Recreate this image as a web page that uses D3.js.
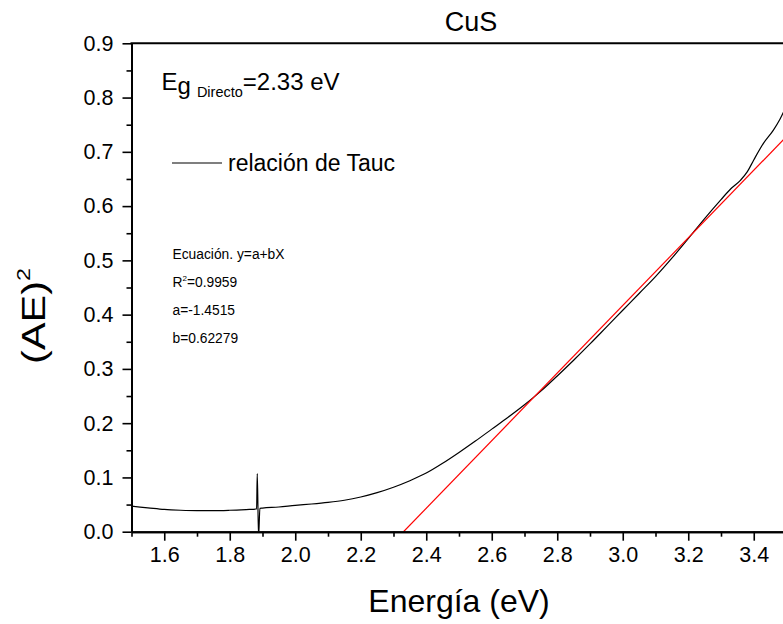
<!DOCTYPE html>
<html><head><meta charset="utf-8">
<script src="https://cdn.jsdelivr.net/npm/d3@7"></script>
<style>body{margin:0;background:#fff;} text{font-family:"Liberation Sans",Arial,sans-serif;}</style>
</head><body>
<svg id="c" width="783" height="624"></svg>
<script>
// Data
const energy = [1.50,1.55,1.60,1.65,1.70,1.75,1.80,1.85,1.882,1.884,1.888,1.892,1.90,1.95,2.00,2.05,2.10,2.15,2.20,2.25,2.30,2.35,2.40,2.45,2.50,2.55,2.60,2.65,2.70,2.75,2.80,2.85,2.90,2.95,3.00,3.05,3.10,3.15,3.20,3.25,3.30,3.33,3.36,3.38,3.40,3.43,3.46,3.48,3.50];
const tauc   = [0.047,0.044,0.041,0.0395,0.0388,0.0388,0.0395,0.0408,0.0418,0.107,-0.01,0.043,0.0435,0.0455,0.0485,0.051,0.054,0.058,0.064,0.072,0.082,0.094,0.108,0.126,0.146,0.167,0.189,0.211,0.234,0.259,0.287,0.316,0.346,0.377,0.408,0.439,0.470,0.504,0.540,0.577,0.612,0.632,0.648,0.663,0.685,0.716,0.740,0.760,0.785];
const fitA = -1.4515, fitB = 0.62279;
const fitX = [2.3306, 3.5];
const xTicks = [1.6,1.8,2.0,2.2,2.4,2.6,2.8,3.0,3.2,3.4];
const yTicks = [0.0,0.1,0.2,0.3,0.4,0.5,0.6,0.7,0.8,0.9];
const xMinor = [1.5,1.7,1.9,2.1,2.3,2.5,2.7,2.9,3.1,3.3,3.5];
const yMinor = [0.05,0.15,0.25,0.35,0.45,0.55,0.65,0.75,0.85];
const eqLines = ["Ecuación. y=a+bX", null, "a=-1.4515", "b=0.62279"];

const svg = d3.select("#c");
const L = 131.5, R = 786.5, T = 43.3, B = 531.7;
const x = d3.scaleLinear().domain([1.5,3.5]).range([L,R]);
const y = d3.scaleLinear().domain([0,0.9]).range([B,T]);

svg.append("defs").append("clipPath").attr("id","clip")
  .append("rect").attr("x",L).attr("y",T).attr("width",R-L).attr("height",B-T);

// curves
const line = d3.line().x((d,i)=>x(energy[i])).y(d=>y(d)).curve(d3.curveMonotoneX);
svg.append("path").datum(tauc).attr("clip-path","url(#clip)")
  .attr("d",line).attr("fill","none").attr("stroke","#000").attr("stroke-width",1.2);
svg.append("path").datum(fitX).attr("clip-path","url(#clip)")
  .attr("d", d3.line().x(d=>x(d)).y(d=>y(fitA+fitB*d)))
  .attr("fill","none").attr("stroke","#ff0000").attr("stroke-width",1.2);

// axes
const fmt = d3.format(".1f");
const gx = svg.append("g").attr("transform",`translate(0,${B})`)
  .call(d3.axisBottom(x).tickValues(xTicks).tickFormat(fmt).tickSize(9).tickPadding(6).tickSizeOuter(0));
const gxm = svg.append("g").attr("transform",`translate(0,${B})`)
  .call(d3.axisBottom(x).tickValues(xMinor).tickFormat("").tickSize(5).tickSizeOuter(0));
const gy = svg.append("g").attr("transform",`translate(${L},0)`)
  .call(d3.axisLeft(y).tickValues(yTicks).tickFormat(fmt).tickSize(9).tickPadding(9).tickSizeOuter(0));
const gym = svg.append("g").attr("transform",`translate(${L},0)`)
  .call(d3.axisLeft(y).tickValues(yMinor).tickFormat("").tickSize(5).tickSizeOuter(0));
[gx,gxm,gy,gym].forEach(g=>{
  g.selectAll("path").attr("stroke","#000").attr("stroke-width",2);
  g.selectAll("line").attr("stroke","#000").attr("stroke-width",1.6);
  g.selectAll("text").attr("font-size",21.5).attr("fill","#000").attr("font-family","Liberation Sans, Arial, sans-serif");
});
// top border
svg.append("line").attr("x1",L-1).attr("x2",R).attr("y1",T).attr("y2",T).attr("stroke","#000").attr("stroke-width",2);

// titles
svg.append("text").attr("x",471).attr("y",31).attr("text-anchor","middle").attr("font-size",27).text("CuS");
svg.append("text").attr("x",459).attr("y",612).attr("text-anchor","middle").attr("font-size",32).text("Energía (eV)");
const yt = svg.append("text").attr("transform","translate(45,316) rotate(-90) scale(1.22,1)").attr("text-anchor","middle").attr("font-size",34);
yt.append("tspan").text("(AE)");
yt.append("tspan").attr("font-size",19).attr("dy",-15).text("2");

// Eg annotation
const eg = svg.append("text").attr("x",161.5).attr("y",90).attr("font-size",24);
eg.append("tspan").text("E");
eg.append("tspan").attr("dy",4).text("g");
eg.append("tspan").attr("font-size",14.5).attr("dx",6).attr("dy",3).text("Directo");
eg.append("tspan").attr("dy",-7).text("=2.33 eV");

// legend
svg.append("line").attr("x1",172).attr("x2",222).attr("y1",163).attr("y2",163).attr("stroke","#000").attr("stroke-width",1.2);
svg.append("text").attr("x",228).attr("y",171).attr("font-size",23).text("relación de Tauc");

// equation block
svg.append("text").attr("x",172.5).attr("y",259).attr("font-size",13.8).text(eqLines[0]);
const r2 = svg.append("text").attr("x",172.5).attr("y",287).attr("font-size",13.8);
r2.append("tspan").text("R");
r2.append("tspan").attr("font-size",8).attr("dy",-6).text("2");
r2.append("tspan").attr("dy",6).text("=0.9959");
svg.append("text").attr("x",172.5).attr("y",315).attr("font-size",13.8).text(eqLines[2]);
svg.append("text").attr("x",172.5).attr("y",343).attr("font-size",13.8).text(eqLines[3]);
</script>
</body></html>
